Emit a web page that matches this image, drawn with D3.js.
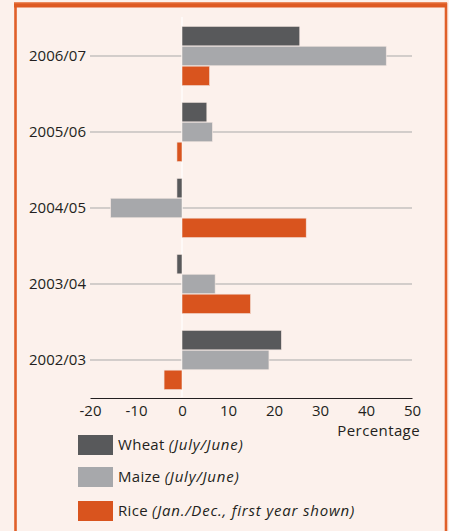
<!DOCTYPE html>
<html><head><meta charset="utf-8">
<script src="https://cdn.jsdelivr.net/npm/d3@7/dist/d3.min.js"></script>
<style>
html,body{margin:0;padding:0;background:#fcf1ec;}
svg{display:block;font-family:"Open Sans",sans-serif;}
</style></head><body>
<svg id="c" width="449" height="531"></svg>
<script>
const categories = ["2006/07","2005/06","2004/05","2003/04","2002/03"];
const wheat = [25.6, 5.4, -1.1, -1.1, 21.6];
const maize = [44.4, 6.6, -15.5, 7.2, 18.9];
const rice  = [6.0, -1.1, 27.0, 14.9, -3.9];
const seriesNames = ["Wheat","Maize","Rice"];
const seriesNotes = ["(July/June)","(July/June)","(Jan./Dec., first year shown)"];
const colors = ["#58595b","#a7a8ab","#d9541e"];
const xTicks = [-20,-10,0,10,20,30,40,50];

const svg = d3.select("#c");
const W = 449, H = 531;
svg.append("rect").attr("width",W).attr("height",H).attr("fill","#fcf1ec");
// frame
svg.append("rect").attr("x",15.5).attr("y",4).attr("width",430.5).attr("height",540)
  .attr("fill","none").attr("stroke","#e0602a").attr("stroke-width",2.6);
svg.append("rect").attr("x",14).attr("y",2).attr("width",433).attr("height",5.5).attr("fill","#de5a22");
svg.append("rect").attr("x",14).attr("y",2).attr("width",433).attr("height",1.3).attr("fill","#eb8a5e");

const x = d3.scaleLinear().domain([-20,50]).range([90,412]);
const y = d3.scaleBand().domain(categories).range([18,398]).paddingInner(0.21).paddingOuter(0.105);
const sub = d3.scaleBand().domain(seriesNames).range([0,y.bandwidth()]).padding(0.02);

// gridlines
const g = svg.append("g");
g.selectAll("line.grid").data(categories).join("line")
  .attr("x1",x(-20)).attr("x2",x(50))
  .attr("y1",d=>y(d)+y.bandwidth()/2).attr("y2",d=>y(d)+y.bandwidth()/2)
  .attr("stroke","#a9a9a9").attr("stroke-width",1);
// zero line (white)
g.append("line").attr("x1",x(0)).attr("x2",x(0)).attr("y1",17).attr("y2",397)
  .attr("stroke","#ffffff").attr("stroke-width",1.2);

const data = [wheat, maize, rice];
data.forEach((vals,si)=>{
  g.selectAll("rect.s"+si).data(categories).join("rect")
    .attr("x",(d,i)=>x(Math.min(0,vals[i])))
    .attr("width",(d,i)=>Math.abs(x(vals[i])-x(0)))
    .attr("y",d=>y(d)+sub(seriesNames[si]))
    .attr("height",sub.bandwidth())
    .attr("fill",colors[si])
    .attr("stroke","#f3e6e1").attr("stroke-width",0.6);
});

// category labels
g.selectAll("text.cat").data(categories).join("text")
  .attr("x",86).attr("y",d=>y(d)+y.bandwidth()/2).attr("dy","0.35em")
  .attr("text-anchor","end").attr("font-size",15).attr("fill","#231f20").text(d=>d);

// x axis
const ax = svg.append("g").attr("transform","translate(0,398)")
  .call(d3.axisBottom(x).tickValues(xTicks).tickSize(0).tickPadding(7).tickFormat(d=>String(d)));
ax.select(".domain").attr("stroke","#231f20").attr("stroke-width",1.2);
ax.selectAll("text").attr("font-size",15).attr("fill","#231f20").attr("font-family","'Open Sans',sans-serif");
svg.append("text").attr("x",420).attr("y",436).attr("text-anchor","end")
  .attr("font-size",15).attr("letter-spacing",0.4).attr("fill","#231f20").text("Percentage");

// legend
const lg = svg.append("g");
const ly = [435, 467, 501];
seriesNames.forEach((n,i)=>{
  lg.append("rect").attr("x",78).attr("y",ly[i]).attr("width",35).attr("height",20).attr("fill",colors[i]);
  const t = lg.append("text").attr("x",118).attr("y",ly[i]+10).attr("dy","0.35em")
    .attr("font-size",15).attr("fill","#231f20");
  t.append("tspan").attr("letter-spacing",0.3).text(n+" ");
  t.append("tspan").attr("font-style","italic").attr("letter-spacing",0.8).text(seriesNotes[i]);
});
</script></body></html>
